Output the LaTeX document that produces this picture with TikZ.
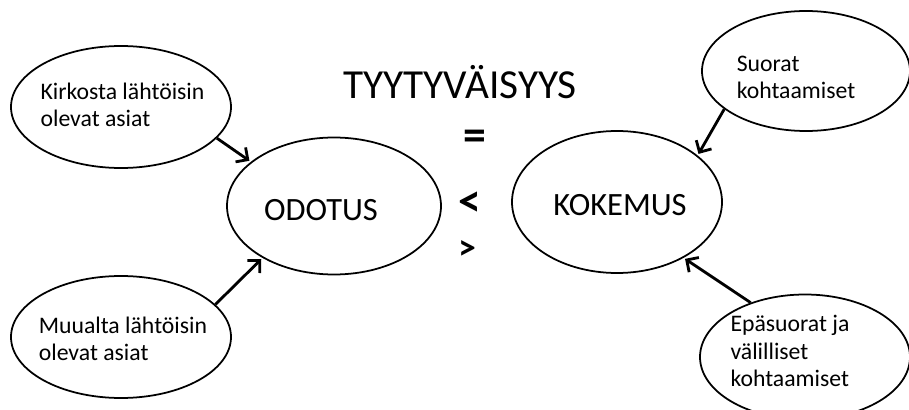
\documentclass[tikz,border=0pt]{standalone}
\usepackage{fontspec}
\setmainfont{Carlito}
\usetikzlibrary{positioning}
\usetikzlibrary{arrows.meta}
\usetikzlibrary{shapes.geometric}

\begin{document}
\begin{tikzpicture}[-,>={Straight Barb[length=5pt,width=10pt]},shorten >=1pt,auto,line width=1pt,
                main node/.style={ellipse,draw,minimum width=4.28cm,minimum height=2.74cm},
                side node/.style={ellipse,draw,minimum width=4.4cm,minimum height=2.44cm},
                side text/.style={align=left,font=\fontsize{13.5}{15.5}\selectfont},
                main text/.style={font=\fontsize{18.5}{22}\selectfont},
                rel sign/.style={font=\fontsize{26}{26}\selectfont\bfseries},
                link/.style={->,line width=1.6pt}]

  \useasboundingbox (0,0) rectangle (18.18,-8.2);

  \node (title) at (9.2,-1.64) {\fontsize{23.5}{28}\selectfont TYYTYVÄISYYS};
  \node[rel sign] (eq) at (9.5,-2.8) {=};
  \node[rel sign] (lt) at (9.4,-4.08) {<};
  \node[rel sign,font=\fontsize{20}{20}\selectfont\bfseries] (gt) at (9.34,-5.0) {>};

  \node[main node] (odotus) at (6.68,-4.12) {};
  \node[main text] (odotustxt) at (6.42,-4.2) {ODOTUS};
  \node[main node,minimum width=4.2cm,minimum height=2.84cm] (kokemus) at (12.34,-4.04) {};
  \node[main text] (kokemustxt) at (12.4,-4.1) {KOKEMUS};

  \node[side node] (kirkko) at (2.42,-2.14) {};
  \node[side text] (kirkkotxt) at (2.45,-2.1) {Kirkosta lähtöisin\\olevat asiat};
  \node[side node] (muualta) at (2.42,-6.74) {};
  \node[side text] (muualtatxt) at (2.46,-6.78) {Muualta lähtöisin\\olevat asiat};
  \node[side node,minimum width=4.16cm,minimum height=2.4cm] (suorat) at (16.12,-1.42) {};
  \node[side text] (suorattxt) at (15.92,-1.55) {Suorat\\kohtaamiset};
  \node[side node,minimum width=4.2cm,minimum height=2.5cm] (epasuorat) at (16.1,-7.14) {};
  \node[side text] (epasuorattxt) at (15.8,-7.02) {Epäsuorat ja\\välilliset\\kohtaamiset};

  \path
    (kirkko.-18) edge [link] (odotus.152)
    (muualta.19) edge [link] (odotus.-144)
    (suorat.205) edge [link] (kokemus.30)
    (epasuorat.135) edge [link] (kokemus.-40);
\end{tikzpicture}
\end{document}
